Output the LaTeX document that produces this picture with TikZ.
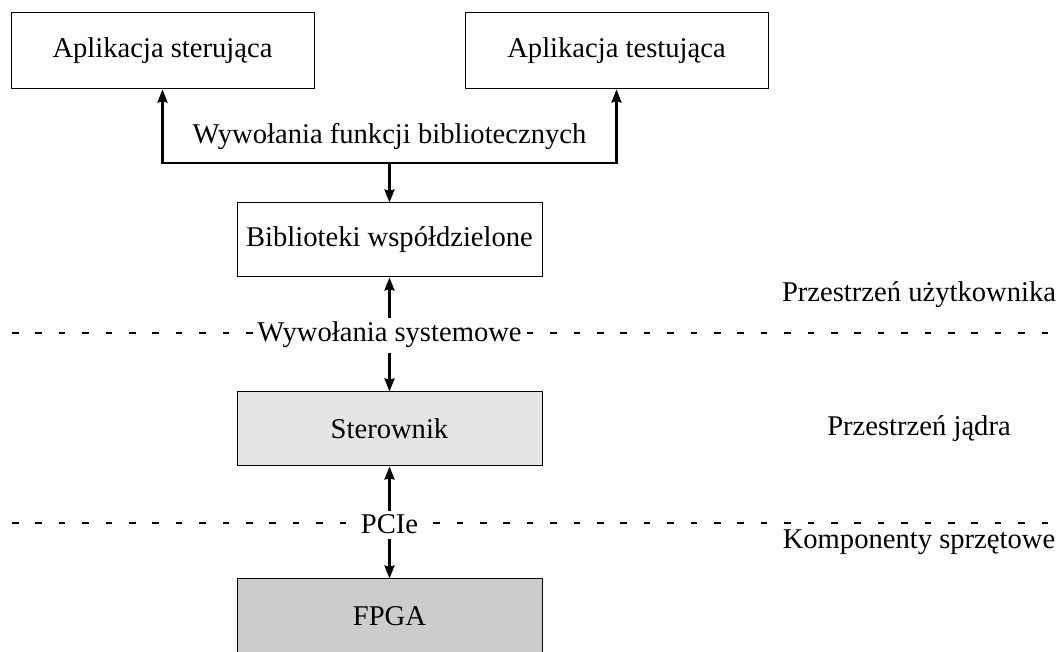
\documentclass[tikz,border=0pt]{standalone}
\usepackage{fontspec}
\setmainfont{Liberation Serif}
\usetikzlibrary{arrows.meta}

\tikzset{
  layerbox/.style={draw=black, line width=0.5pt, minimum width=152.5pt, minimum height=37pt, inner sep=0pt},
  appbox/.style={layerbox, minimum width=151.5pt, minimum height=38pt},
  tip/.tip={Stealth[length=6.5pt,width=5pt,inset=0.5pt]},
  conn/.style={line width=1.1pt, -tip},
  biconn/.style={line width=1.1pt, tip-tip},
  boundary/.style={line width=0.6pt, dash pattern=on 3.3pt off 8.4pt},
  iface/.style={fill=white, inner sep=2pt, anchor=base},
  layername/.style={anchor=base, inner sep=0pt},
}

\begin{document}
\begin{tikzpicture}[x=0.5pt, y=-0.5pt, font=\fontsize{14.3}{17}\selectfont]
  \useasboundingbox (0,0) rectangle (1062,652);

  % layer boundaries
  \coordinate (b1l) at (12,333);
  \coordinate (b1r) at (1048,333);
  \coordinate (b2l) at (12,523);
  \coordinate (b2r) at (1048,523);
  \draw[boundary] (b1l) -- (b1r);
  \draw[boundary] (b2l) -- (b2r);

  % applications
  \node[appbox] (app1) at (162.5,51) {Aplikacja sterująca};
  \node[appbox] (app2) at (616.5,51) {Aplikacja testująca};

  % user-space library
  \node[layerbox] (lib) at (389.5,240) {Biblioteki współdzielone};

  % kernel driver and hardware
  \node[layerbox, fill=gray!20] (drv) at (389.5,429) {Sterownik};
  \node[layerbox, fill=gray!40] (fpga) at (389.5,616) {FPGA};

  % library calls
  \coordinate (j) at (389.5,163);
  \node[anchor=base, inner sep=0pt] (libcalls) at (389.5,144) {Wywołania funkcji bibliotecznych};
  \draw[biconn] (app1.south) |- (j) -| (app2.south);
  \draw[conn] (j) -- (lib.north);

  % system calls
  \node[iface] (sys) at (389.5,342) {Wywołania systemowe};
  \draw[conn] (sys) -- (lib);
  \draw[conn] (sys) -- (drv);

  % PCIe link
  \node[iface] (pcie) at (389.5,534) {PCIe};
  \draw[conn] (pcie) -- (drv);
  \draw[conn] (pcie) -- (fpga);

  % layer names
  \node[layername] (user) at (919,302) {Przestrzeń użytkownika};
  \node[layername] (kern) at (919,436) {Przestrzeń jądra};
  \node[layername] (hw) at (919,549) {Komponenty sprzętowe};
\end{tikzpicture}
\end{document}
